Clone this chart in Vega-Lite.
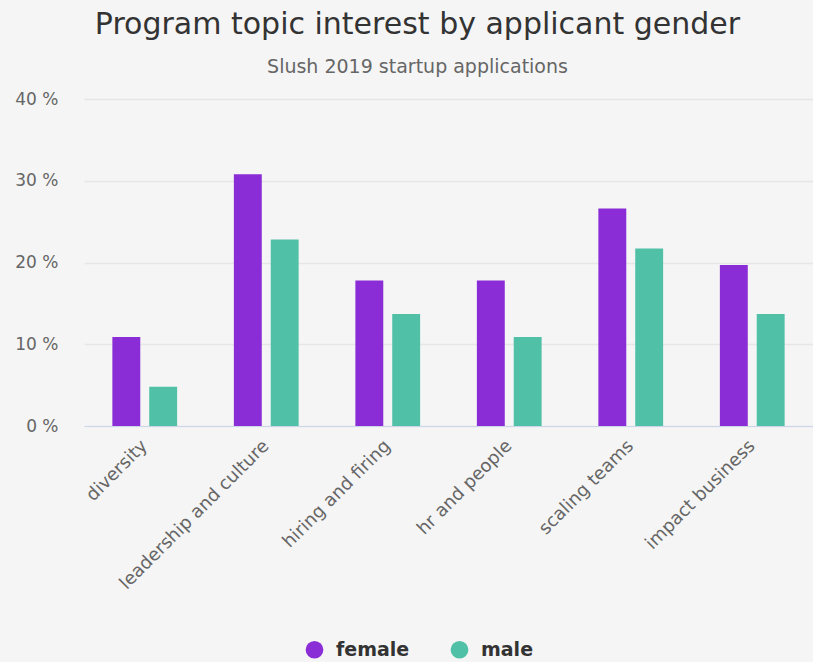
{
  "$schema": "https://vega.github.io/schema/vega-lite/v6.json",
  "width": 729,
  "height": 327,
  "autosize": {"type": "none"},
  "padding": {"left": 84, "top": 99, "right": 0, "bottom": 236},
  "background": "#f5f5f5",
  "config": {
    "font": "DejaVu Sans",
    "view": {"stroke": null}
  },
  "title": {
    "text": "Program topic interest by applicant gender",
    "subtitle": "Slush 2019 startup applications",
    "anchor": "middle",
    "dx": -31,
    "offset": 13,
    "fontSize": 30,
    "fontWeight": "normal",
    "color": "#333333",
    "subtitleFontSize": 19,
    "subtitleColor": "#666666",
    "subtitlePadding": 18
  },
  "data": {
    "values": [
      {"topic": "diversity", "gender": "female", "pct": 10.9},
      {"topic": "diversity", "gender": "male", "pct": 4.8},
      {"topic": "leadership and culture", "gender": "female", "pct": 30.8},
      {"topic": "leadership and culture", "gender": "male", "pct": 22.8},
      {"topic": "hiring and firing", "gender": "female", "pct": 17.8},
      {"topic": "hiring and firing", "gender": "male", "pct": 13.7},
      {"topic": "hr and people", "gender": "female", "pct": 17.8},
      {"topic": "hr and people", "gender": "male", "pct": 10.9},
      {"topic": "scaling teams", "gender": "female", "pct": 26.6},
      {"topic": "scaling teams", "gender": "male", "pct": 21.7},
      {"topic": "impact business", "gender": "female", "pct": 19.7},
      {"topic": "impact business", "gender": "male", "pct": 13.7}
    ]
  },
  "mark": {"type": "bar"},
  "encoding": {
    "x": {
      "field": "topic",
      "type": "nominal",
      "sort": null,
      "scale": {"paddingInner": 0.467, "paddingOuter": 0.2335},
      "axis": {
        "title": null,
        "labelAngle": -45,
        "labelAlign": "right",
        "labelBaseline": "middle",
        "labelFontSize": 18,
        "labelColor": "#666666",
        "labelPadding": 17,
        "labelLimit": 0,
        "ticks": false,
        "domainColor": "#ccd6eb",
        "domainWidth": 1,
        "grid": false
      }
    },
    "xOffset": {
      "field": "gender",
      "type": "nominal",
      "scale": {"paddingInner": 0.243, "paddingOuter": 0}
    },
    "y": {
      "field": "pct",
      "type": "quantitative",
      "scale": {"domain": [0, 40], "nice": false},
      "axis": {
        "title": null,
        "values": [0, 10, 20, 30, 40],
        "labelExpr": "datum.value + ' %'",
        "labelFontSize": 17,
        "labelColor": "#666666",
        "labelPadding": 26,
        "ticks": false,
        "domain": false,
        "gridColor": "#e6e6e6",
        "gridWidth": 1.5
      }
    },
    "color": {
      "field": "gender",
      "type": "nominal",
      "scale": {"domain": ["female", "male"], "range": ["#8a2dd6", "#50c0a6"]},
      "legend": {
        "title": null,
        "orient": "none",
        "direction": "horizontal",
        "legendX": 221,
        "legendY": 541,
        "symbolType": "circle",
        "symbolSize": 314,
        "symbolStrokeWidth": 0,
        "labelFontSize": 19,
        "labelFontWeight": "bold",
        "labelColor": "#333333",
        "labelOffset": 12,
        "columnPadding": 40
      }
    }
  }
}
